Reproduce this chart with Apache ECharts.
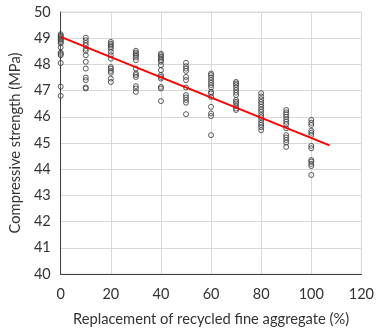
<!DOCTYPE html>
<html><head><meta charset="utf-8">
<script src="https://cdn.jsdelivr.net/npm/echarts@6/dist/echarts.min.js"></script>
<style>html,body{margin:0;padding:0;background:#fff}#c{width:377px;height:332px}</style>
</head><body><div id="c"></div>
<script>
const replacement = [0,10,20,30,40,50,60,70,80,90,100];
const strengths = [
  [49.15,49.1,49.05,49.0,48.95,48.9,48.85,48.8,48.65,48.45,48.4,48.35,48.05,47.15,46.8],
  [49.02,48.92,48.82,48.73,48.6,48.52,48.35,48.1,47.84,47.5,47.4,47.12,47.08],
  [48.86,48.79,48.73,48.67,48.6,48.48,48.35,48.22,47.9,47.84,47.75,47.68,47.46,47.33],
  [48.52,48.45,48.39,48.33,48.26,48.16,47.84,47.65,47.59,47.52,47.17,47.08,46.95],
  [48.41,48.35,48.29,48.22,48.16,48.1,47.97,47.78,47.59,47.52,47.46,47.14,47.08,46.6],
  [48.06,47.93,47.84,47.75,47.52,47.4,47.12,46.83,46.74,46.64,46.54,46.1],
  [47.65,47.59,47.5,47.4,47.3,47.21,47.12,46.95,46.89,46.76,46.38,46.13,46.03,45.3],
  [47.33,47.27,47.21,47.12,47.02,46.92,46.83,46.64,46.57,46.51,46.41,46.32,46.26],
  [46.9,46.78,46.67,46.57,46.48,46.38,46.28,46.19,46.07,45.98,45.88,45.77,45.69,45.6,45.49],
  [46.26,46.17,46.09,46.0,45.9,45.81,45.72,45.56,45.3,45.21,45.11,45.01,44.85],
  [45.88,45.77,45.69,45.47,45.39,45.3,44.89,44.8,44.35,44.29,44.2,44.12,43.78]
];
const trendX = [0, 107.3];
const trendY = [49.05, 44.91];
const xTicks = {min:0, max:120, interval:20};
const yTicks = {min:40, max:50, interval:1};

const pts = [];
replacement.forEach((x,i)=>strengths[i].forEach(v=>pts.push([x,v])));
const trend = trendX.map((x,i)=>[x,trendY[i]]);

const font = 'Lato, "Open Sans", sans-serif';
const chart = echarts.init(document.getElementById('c'));
chart.setOption({
  animation:false,
  grid:{left:60,right:14,top:12,bottom:58,show:true,borderColor:'#d9d9d9',borderWidth:1},
  xAxis:{type:'value',min:xTicks.min,max:xTicks.max,interval:xTicks.interval,
    name:'Replacement of recycled fine aggregate (%)',nameLocation:'middle',nameGap:38,
    nameTextStyle:{fontFamily:font,fontSize:14.7,color:'#333'},
    axisLine:{lineStyle:{color:'#404040',width:1}},axisTick:{show:false},
    axisLabel:{fontFamily:font,fontSize:14.5,color:'#333',margin:13},
    splitLine:{lineStyle:{color:'#d9d9d9'}}},
  yAxis:{type:'value',min:yTicks.min,max:yTicks.max,interval:yTicks.interval,
    name:'Compressive strength (MPa)',nameLocation:'middle',nameGap:32,
    nameTextStyle:{fontFamily:font,fontSize:14.7,color:'#333'},
    axisLine:{show:true,lineStyle:{color:'#404040',width:1}},axisTick:{show:false},
    axisLabel:{fontFamily:font,fontSize:14.5,color:'#333',margin:10},
    splitLine:{lineStyle:{color:'#d9d9d9'}}},
  series:[
    {type:'scatter',data:pts,symbol:'circle',symbolSize:5,
     itemStyle:{color:'rgba(255,255,255,0.2)',borderColor:'#333',borderWidth:1}},
    {type:'line',data:trend,symbol:'none',lineStyle:{color:'#ff0000',width:2},z:5}
  ]
});
</script></body></html>
